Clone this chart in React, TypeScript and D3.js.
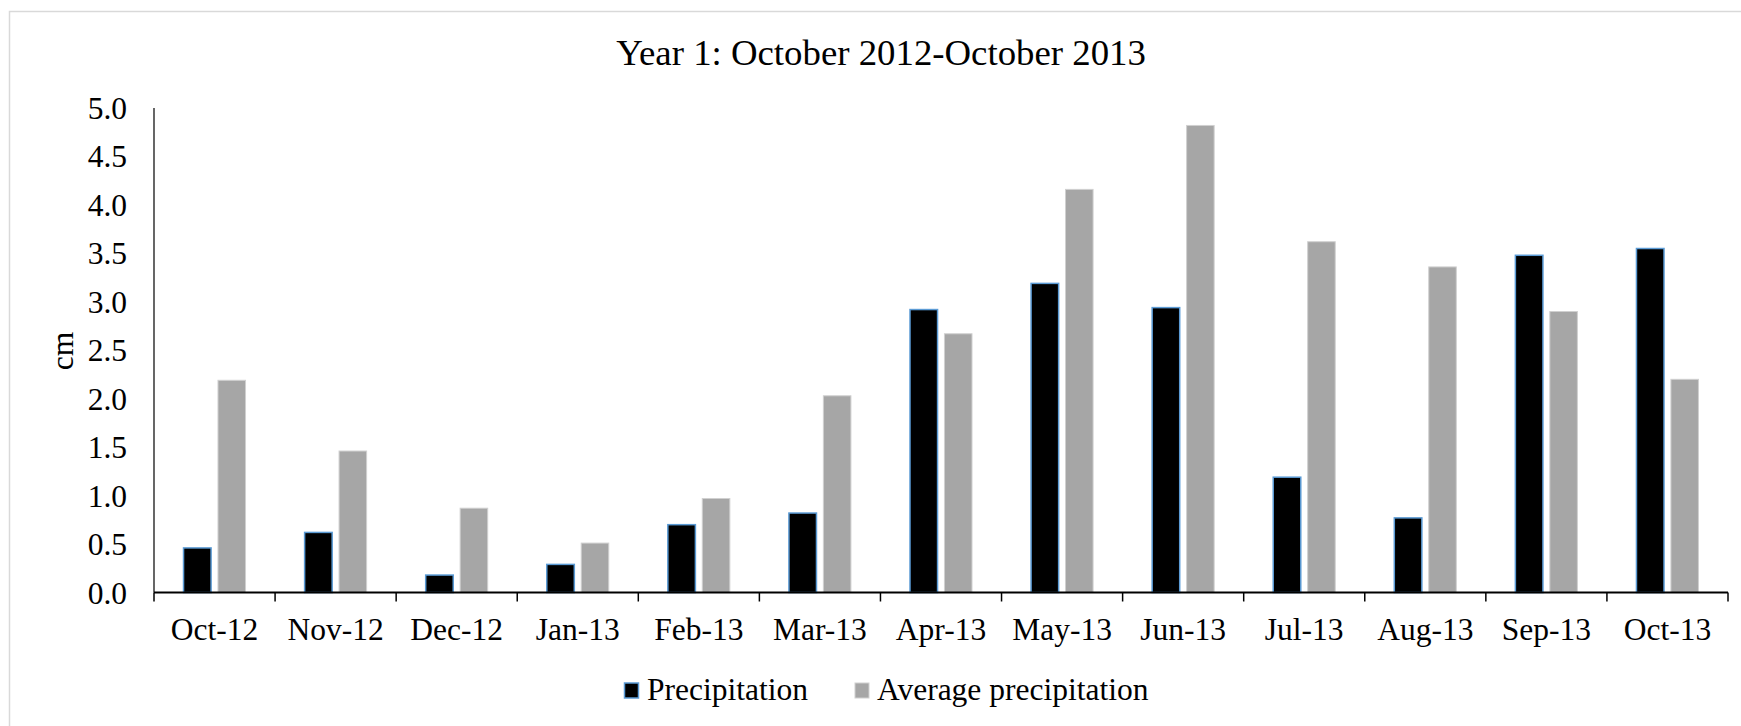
import React from "react";
import * as d3 from "d3";

// Monthly precipitation (cm), October 2012 – October 2013
const months = [
  "Oct-12", "Nov-12", "Dec-12", "Jan-13", "Feb-13", "Mar-13", "Apr-13",
  "May-13", "Jun-13", "Jul-13", "Aug-13", "Sep-13", "Oct-13",
];
const precipitation = [0.46, 0.62, 0.18, 0.29, 0.70, 0.82, 2.92, 3.19, 2.94, 1.19, 0.77, 3.48, 3.55];
const averagePrecipitation = [2.19, 1.46, 0.87, 0.51, 0.97, 2.03, 2.67, 4.16, 4.82, 3.62, 3.36, 2.90, 2.20];
const yTicks = [0, 0.5, 1, 1.5, 2, 2.5, 3, 3.5, 4, 4.5, 5];

const seriesNames = ["Precipitation", "Average precipitation"];
const seriesValues = [precipitation, averagePrecipitation];

const W = 1741;
const H = 726;
const FONT = "'Times New Roman', 'Liberation Serif', serif";

export default function App() {
  const left = 154;
  const right = 1728;
  const top = 108;
  const bottom = 592.5;

  const x = d3.scaleBand<string>().domain(months).range([left, right]).padding(0);
  const bw = x.bandwidth();
  const groupW = 62;
  const inner = d3
    .scaleBand<number>()
    .domain([0, 1])
    .range([(bw - groupW) / 2, (bw + groupW) / 2])
    .paddingInner(0.2);
  const y = d3.scaleLinear().domain([0, 5]).range([bottom, top]);
  const fmt = d3.format(".1f");

  const styles = [
    { fill: "#000000", stroke: "#5b9bd5", sw: 1.5 },
    { fill: "#a6a6a6", stroke: "#d0d0d0", sw: 1 },
  ];

  const boundaries = months.map((m) => x(m) as number).concat([right]);

  return (
    <svg
      width={W}
      height={H}
      style={{ position: "absolute", left: 0, top: 0, background: "#fff" }}
      fontFamily={FONT}
    >
      <rect x={0} y={0} width={W} height={H} fill="#ffffff" />
      {/* chart area border */}
      <rect x={9.5} y={11.5} width={W + 20} height={H + 20} fill="none" stroke="#d9d9d9" strokeWidth={1.5} />

      <text x={881} y={65} textAnchor="middle" fontSize={36.8} fill="#000">
        Year 1: October 2012-October 2013
      </text>

      {/* bars */}
      {seriesValues.map((vals, s) =>
        vals.map((v, i) => {
          const bx = (x(months[i]) as number) + (inner(s) as number);
          return (
            <rect
              key={`${s}-${i}`}
              x={bx}
              y={y(v)}
              width={inner.bandwidth()}
              height={y(0) - y(v)}
              fill={styles[s].fill}
              stroke={styles[s].stroke}
              strokeWidth={styles[s].sw}
            />
          );
        })
      )}

      {/* y axis */}
      <line x1={left} x2={left} y1={top} y2={bottom} stroke="#000" strokeWidth={1.2} />
      {yTicks.map((t) => (
        <text key={t} x={127} y={y(t)} dy="0.35em" textAnchor="end" fontSize={31.5} fill="#000">
          {fmt(t)}
        </text>
      ))}
      <text
        transform={`translate(73,351) rotate(-90)`}
        textAnchor="middle"
        fontSize={31.5}
        fill="#000"
      >
        cm
      </text>

      {/* x axis */}
      <line x1={left} x2={right} y1={bottom} y2={bottom} stroke="#000" strokeWidth={2} />
      {boundaries.map((bx, i) => (
        <line key={i} x1={bx} x2={bx} y1={bottom} y2={bottom + 9} stroke="#000" strokeWidth={1.5} />
      ))}
      {months.map((m) => (
        <text
          key={m}
          x={(x(m) as number) + bw / 2}
          y={640}
          textAnchor="middle"
          fontSize={31.5}
          fill="#000"
        >
          {m}
        </text>
      ))}

      {/* legend */}
      <rect x={624.5} y={683} width={14} height={15} fill="#000" stroke="#5b9bd5" strokeWidth={1.5} />
      <text x={647} y={700} fontSize={31.5} fill="#000">
        {seriesNames[0]}
      </text>
      <rect x={855} y={683} width={14} height={15} fill="#a6a6a6" stroke="#d0d0d0" strokeWidth={1} />
      <text x={877} y={700} fontSize={31.5} fill="#000">
        {seriesNames[1]}
      </text>
    </svg>
  );
}
